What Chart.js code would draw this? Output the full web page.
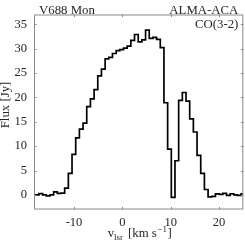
<!DOCTYPE html>
<html>
<head>
<meta charset="utf-8">
<script src="https://cdn.jsdelivr.net/npm/chart.js@4"></script>
<style>
    body { margin: 0; background: white; }
</style>
</head>
<body>
<canvas id="spec" width="245" height="245"></canvas>
<script>
// channel left edges [km/s] and flux per channel [Jy]
let chanEdges = [-18.26, -17.24, -16.48, -15.72, -14.96, -14.2, -13.44, -12.68, -11.92, -11.16,
    -10.4, -9.64, -8.88, -8.12, -7.36, -6.6, -5.84, -5.08, -4.32, -3.56,
    -2.8, -2.04, -1.28, -0.52, 0.24, 1.0, 1.76, 2.52, 3.28, 4.04,
    4.8, 5.56, 6.32, 7.08, 7.84, 8.6, 9.36, 10.12, 10.88, 11.64,
    12.4, 13.16, 13.92, 14.68, 15.44, 16.2, 16.96, 17.72, 18.48, 19.24,
    20.0, 20.76, 21.52, 22.28, 23.04, 23.8, 24.56];
let fluxJy = [0.0, 0.25, 0.0, -0.2, 0.0, 0.6, 0.3, 0.35, 1.4, 4.4,
    8.3, 11.7, 13.5, 14.7, 18.1, 19.7, 21.6, 24.4, 25.8, 27.9,
    28.2, 29.0, 29.6, 29.8, 30.1, 30.5, 31.7, 32.9, 31.4, 31.8,
    33.8, 32.1, 32.3, 31.9, 30.2, 18.9, 9.4, -0.5, 7.0, 19.4,
    21.0, 19.25, 15.6, 12.9, 8.1, 4.4, 1.1, -0.4, -0.3, 0.2,
    0.1, 0.3, -0.1, 0.2, 0.0, -0.1, 0.2];
let xTicks = [-10, 0, 10, 20];
let yTicks = [0, 5, 10, 15, 20, 25, 30, 35];
let xRange = [-18.26, 25];
let yRange = [-3, 37];

let serif = '"Liberation Serif", "DejaVu Serif", serif';
let inkColor = '#262626';

function stairPoints() {
    let pts = [];
    for (let i = 0; i < chanEdges.length; i++) {
        pts.push({ x: chanEdges[i], y: fluxJy[i] });
    }
    // close the last channel at the right limit
    pts.push({ x: xRange[1], y: fluxJy[fluxJy.length - 1] });
    return pts;
}

function drawXLabel(ctx, cx, base) {
    let big = '12.8px ' + serif;
    let small = '9px ' + serif;
    let parts = [
        ['v', big, 0, 0],
        ['lsr', small, 3, 0],
        ['[km s', big, 0, 5],
        ['\u22121', small, -5, 0.5],
        [']', big, 0, 0.5]
    ];
    let total = 0;
    parts.forEach(p => {
        ctx.font = p[1];
        total += p[3] + ctx.measureText(p[0]).width;
    });
    let x = cx - total / 2;
    ctx.textAlign = 'left';
    ctx.textBaseline = 'alphabetic';
    parts.forEach(p => {
        ctx.font = p[1];
        x += p[3];
        ctx.fillText(p[0], x, base + p[2]);
        x += ctx.measureText(p[0]).width;
    });
}

let framePlugin = {
    id: 'frame',
    afterDraw(chart) {
        let ctx = chart.ctx;
        let a = chart.chartArea;
        let xs = chart.scales.x;
        let ys = chart.scales.y;
        ctx.save();
        ctx.strokeStyle = '#8a8a8a';
        ctx.lineWidth = 1;
        ctx.strokeRect(a.left + 0.5, a.top + 0.5, a.right - a.left - 1, a.bottom - a.top - 1);
        ctx.beginPath();
        xTicks.forEach(v => {
            let p = Math.round(xs.getPixelForValue(v)) + 0.5;
            ctx.moveTo(p, a.bottom);
            ctx.lineTo(p, a.bottom - 2.5);
            ctx.moveTo(p, a.top);
            ctx.lineTo(p, a.top + 2.5);
        });
        yTicks.forEach(v => {
            let p = Math.round(ys.getPixelForValue(v)) + 0.5;
            ctx.moveTo(a.left, p);
            ctx.lineTo(a.left + 2.5, p);
            ctx.moveTo(a.right, p);
            ctx.lineTo(a.right - 2.5, p);
        });
        ctx.stroke();

        ctx.fillStyle = inkColor;
        ctx.font = '12.8px ' + serif;
        ctx.textBaseline = 'middle';
        ctx.textAlign = 'left';
        ctx.fillText('V688 Mon', a.left + 5, 11);
        ctx.textAlign = 'right';
        ctx.fillText('ALMA-ACA', a.right - 5, 11);
        ctx.fillText('CO(3-2)', a.right - 5, 24.5);

        drawXLabel(ctx, (a.left + a.right) / 2 + 1, 237);

        ctx.save();
        ctx.translate(6, 105);
        ctx.rotate(-Math.PI / 2);
        ctx.textAlign = 'center';
        ctx.textBaseline = 'middle';
        ctx.font = '12.8px ' + serif;
        ctx.fillText('Flux [Jy]', 0, 0);
        ctx.restore();
        ctx.restore();
    }
};

function setup() {
    let ctx = document.getElementById('spec').getContext('2d');
    new Chart(ctx, {
        type: 'line',
        data: {
            datasets: [{
                data: stairPoints(),
                stepped: true,
                borderColor: '#000000',
                borderWidth: 1.7,
                pointRadius: 0,
                fill: false
            }]
        },
        options: {
            responsive: false,
            devicePixelRatio: 1,
            animation: false,
            layout: { padding: { top: 1, right: 1.7, left: 0, bottom: 0 } },
            plugins: {
                legend: { display: false },
                tooltip: { enabled: false }
            },
            scales: {
                x: {
                    type: 'linear',
                    min: xRange[0],
                    max: xRange[1],
                    afterBuildTicks: s => { s.ticks = xTicks.map(v => ({ value: v })) },
                    afterFit: s => { s.height = 35.5 },
                    grid: { display: false, drawTicks: false },
                    border: { display: false },
                    ticks: {
                        padding: 6,
                        color: inkColor,
                        maxRotation: 0,
                        font: { family: serif, size: 12.5 }
                    }
                },
                y: {
                    type: 'linear',
                    min: yRange[0],
                    max: yRange[1],
                    afterBuildTicks: s => { s.ticks = yTicks.map(v => ({ value: v })) },
                    afterFit: s => { s.width = 34 },
                    grid: { display: false, drawTicks: false },
                    border: { display: false },
                    ticks: {
                        padding: 7,
                        color: inkColor,
                        font: { family: serif, size: 12.5 }
                    }
                }
            }
        },
        plugins: [framePlugin]
    });
}

setup();
</script>
</body>
</html>
